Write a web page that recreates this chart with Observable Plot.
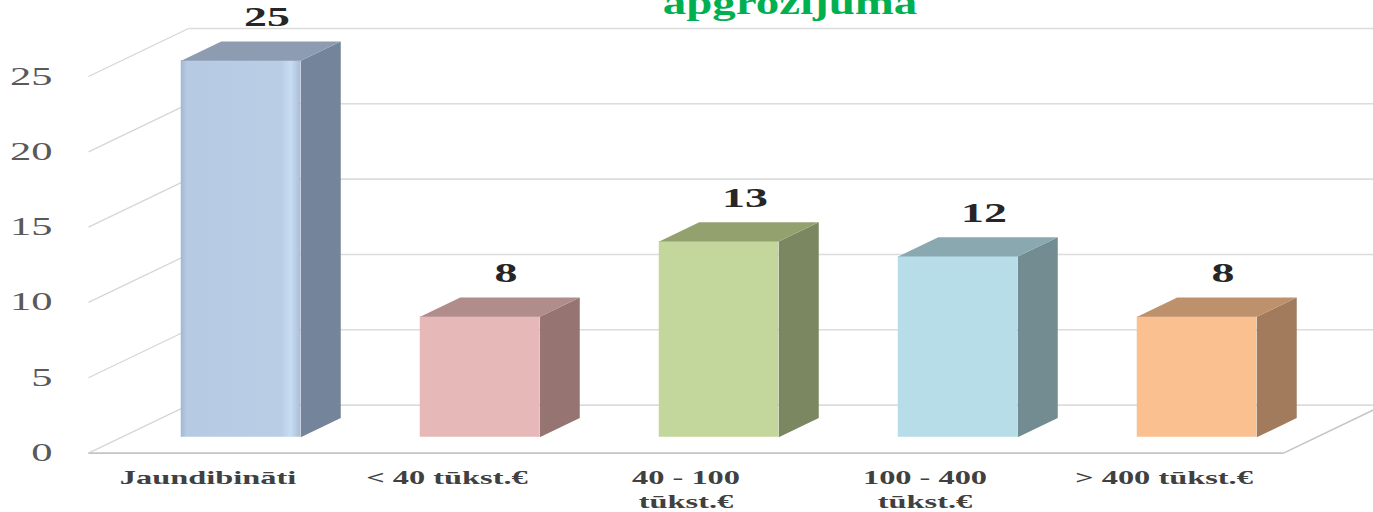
<!DOCTYPE html>
<html><head><meta charset="utf-8">
<script src="https://cdn.jsdelivr.net/npm/d3@7"></script>
<script src="https://cdn.jsdelivr.net/npm/@observablehq/plot@0.6"></script>
<style>
html,body{margin:0;padding:0;background:#fff;overflow:hidden;}
#wrap{position:relative;width:1373px;height:512px;overflow:hidden;}
#title{position:absolute;z-index:2;left:790px;top:-16.5px;white-space:nowrap;line-height:1;font:bold 34px "Liberation Serif";color:#00B050;transform:translateX(-50%) scaleX(1.38);}
</style></head><body>
<svg width="0" height="0" style="position:absolute"><defs>
<linearGradient id="g1" x1="0" x2="1" y1="0" y2="0">
<stop offset="0" stop-color="#A3B7D1"/>
<stop offset="0.05" stop-color="#B6CAE3"/>
<stop offset="0.84" stop-color="#B9CDE5"/>
<stop offset="0.92" stop-color="#C8DCF4"/>
<stop offset="1" stop-color="#A9BDD7"/>
</linearGradient></defs></svg>
<div id="wrap"><div id="title">apgrozījuma</div></div>
<script>
const categories = ["Jaundibināti", "< 40 tūkst.€", "40 - 100\ntūkst.€", "100 - 400\ntūkst.€", "> 400 tūkst.€"];
const values = [25, 8, 13, 12, 8];
const frontColors = ["url(#g1)", "#E6B9B8", "#C3D69B", "#B7DEE8", "#FAC090"];
const topColors = ["#8E9CB1", "#B08C8B", "#93A16F", "#8AA8AF", "#BD916C"];
const sideColors = ["#74849A", "#957472", "#7B8760", "#738C91", "#A17B5C"];
const yTicks = [0, 5, 10, 15, 20, 25];

// scale geometry
const XR = [88, 1283], YR = [452.6, 76];
const n = categories.length, yMax = 25;
const pxPerX = (XR[1] - XR[0]) / n, pxPerY = (YR[0] - YR[1]) / yMax;
// oblique depth (full depth in pixels) converted to data units
const DXu = 100 / pxPerX, DYu = 48 / pxPerY;
const D0 = 0.33, D1 = 0.73, HALF = 0.25;
const P = (x, y, d) => ({x: x + d * DXu, y: y + d * DYu});

const fronts = values.map((v, i) => ({
  x1: i + 0.5 - HALF + D0 * DXu, x2: i + 0.5 + HALF + D0 * DXu,
  y1: D0 * DYu, y2: v + D0 * DYu, fill: frontColors[i]
}));
const faces = [];
values.forEach((v, i) => {
  const xl = i + 0.5 - HALF, xr = i + 0.5 + HALF;
  [[xr, 0, D0], [xr, 0, D1], [xr, v, D1], [xr, v, D0]].forEach(([x, y, d]) => faces.push({id: "s" + i, ...P(x, y, d), fill: sideColors[i]}));
  [[xl, v, D0], [xr, v, D0], [xr, v, D1], [xl, v, D1]].forEach(([x, y, d]) => faces.push({id: "t" + i, ...P(x, y, d), fill: topColors[i]}));
});
const backLines = yTicks.map(t => ({x1: DXu, y1: t + DYu, x2: n + DXu, y2: t + DYu}));
const diagLines = yTicks.map(t => ({x1: 0, y1: t, x2: DXu, y2: t + DYu}));
const floorLines = [{x1: 0, y1: 0, x2: n, y2: 0}, {x1: n, y1: 0, x2: n + DXu, y2: DYu}];

const serif = "Liberation Serif, Times New Roman, serif";
const plot = Plot.plot({
  width: 1373, height: 512, margin: 0,
  x: {type: "linear", domain: [0, n], range: XR, axis: null},
  y: {type: "linear", domain: [0, yMax], range: YR, axis: null},
  color: {type: "identity"},
  style: {background: "transparent"},
  marks: [
    Plot.link(backLines, {x1: "x1", y1: "y1", x2: "x2", y2: "y2", stroke: "#DCDCDC", strokeWidth: 1.6}),
    Plot.link(diagLines, {x1: "x1", y1: "y1", x2: "x2", y2: "y2", stroke: "#D6D6D6", strokeWidth: 1.3}),
    Plot.link(floorLines, {x1: "x1", y1: "y1", x2: "x2", y2: "y2", stroke: "#C4C4C4", strokeWidth: 1.6}),
    Plot.rect(fronts, {x1: "x1", x2: "x2", y1: "y1", y2: "y2", fill: "fill"}),
    Plot.line(faces, {x: "x", y: "y", z: "id", fill: "fill", stroke: "none"}),
    Plot.text(yTicks, {x: d => 0, y: d => d, text: d => String(d), dx: -36, textAnchor: "end", lineAnchor: "middle",
      fontSize: 25, fontFamily: serif, fill: "#595959"}),
    Plot.text(categories, {x: (d, i) => i + 0.5, y: d => 0, text: d => d, dy: 13.7, lineAnchor: "top", lineHeight: 1.33,
      fontSize: 18, fontWeight: "bold", fontFamily: serif, fill: "#404040"}),
    Plot.text(values, {x: (d, i) => i + 0.5 + 0.53 * DXu, y: d => d + D1 * DYu, text: d => String(d), dx: 6, dy: -24,
      lineAnchor: "middle", fontSize: 27, fontWeight: "bold", fontFamily: serif, fill: "#262626"})
  ]
});
document.getElementById("wrap").appendChild(plot);

// horizontal stretch of the labels, as in the reference
d3.select(plot).selectAll("text").each(function () {
  const fs = this.parentNode.getAttribute("font-size");
  const s = fs === "18" ? 1.8 : 1.7;
  let t = this.getAttribute("transform");
  if (!t) {
    const x = this.getAttribute("x") || 0, y = this.getAttribute("y") || 0;
    if (String(y).endsWith("em")) { t = `translate(${x},0)`; this.removeAttribute("x"); }
    else { t = `translate(${x},${y})`; this.removeAttribute("x"); this.removeAttribute("y"); }
  }
  this.setAttribute("transform", t + ` scale(${s},1)`);
});
</script>
</body></html>
